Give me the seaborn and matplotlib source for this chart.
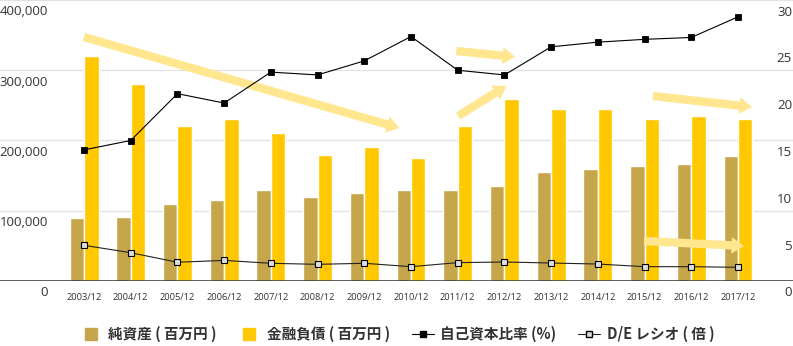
import numpy as np
import pandas as pd
import matplotlib
matplotlib.use("Agg")
import matplotlib.pyplot as plt
import matplotlib.transforms as mtransforms
from matplotlib.lines import Line2D
import seaborn as sns

# ---------------- data ----------------
periods = ["2003/12", "2004/12", "2005/12", "2006/12", "2007/12", "2008/12", "2009/12",
           "2010/12", "2011/12", "2012/12", "2013/12", "2014/12", "2015/12", "2016/12", "2017/12"]
net_assets = [89700, 91100, 109600, 115300, 130000, 120000, 124800,
              130000, 130000, 135200, 154700, 159400, 164100, 166500, 178400]
fin_debt = [320300, 280000, 220200, 230600, 210200, 179800, 190300,
            174600, 220200, 259500, 244800, 244800, 230100, 234900, 231100]
equity_ratio = [14.0, 15.0, 20.0, 19.0, 22.3, 22.0, 23.5,
                26.1, 22.5, 22.0, 25.0, 25.5, 25.8, 26.0, 28.2]
de_ratio = [3.81, 3.02, 2.0, 2.2, 1.89, 1.78, 1.89,
            1.53, 1.96, 2.03, 1.92, 1.81, 1.53, 1.53, 1.46]

series_names = ["純資産 ( 百万円 )", "金融負債 ( 百万円 )", "自己資本比率 (%)", "D/E レシオ ( 倍 )"]
left_ticks = [0, 100000, 200000, 300000, 400000]
left_tick_labels = ["0", "100,000", "200,000", "300,000", "400,000"]
right_ticks = [0, 5, 10, 15, 20, 25, 30]
right_tick_labels = ["0", "5", "10", "15", "20", "25", "30"]

# trend arrows (tail -> head) in (category index, left-axis value)
arrow_tails = [(0.0, 347300), (7.97, 327400), (8.01, 234900), (12.18, 263300), (11.99, 56900)]
arrow_heads = [(6.75, 217800), (9.23, 318900), (9.04, 277600), (14.30, 247700), (14.13, 49800)]

# ---------------- style ----------------
TAN = "#C6A64A"
YELLOW = "#FFC800"
ARROW = "#FFE68F"
TXT = "#333333"

sns.set_theme(style="white")
plt.rcParams["font.family"] = ["Noto Sans CJK JP", "DejaVu Sans"]

W, H, DPI = 793, 346, 100
fig = plt.figure(figsize=(W / DPI, H / DPI), dpi=DPI)
ax = fig.add_axes([0, 65 / H, 1, 281 / H])

df = pd.DataFrame({
    "period": periods * 2,
    "value": net_assets + fin_debt,
    "series": [series_names[0]] * len(periods) + [series_names[1]] * len(periods),
})
sns.barplot(data=df, x="period", y="value", hue="series", order=periods,
            hue_order=series_names[:2], palette=[TAN, YELLOW], saturation=1,
            width=0.62, ax=ax, legend=False, zorder=2)

# gridlines and baseline
for t in left_ticks[1:]:
    ax.axhline(t, color="#E2E2E2", lw=0.9, zorder=0)
ax.axhline(0, color="#333333", lw=1.1, zorder=3)

# arrows
for (tx, ty), (hx, hy) in zip(arrow_tails, arrow_heads):
    ax.annotate("", xy=(hx, hy), xytext=(tx, ty),
                arrowprops=dict(arrowstyle="simple,head_width=1.2,head_length=0.9,tail_width=0.6",
                                color=ARROW, mutation_scale=10, shrinkA=0, shrinkB=0, lw=0),
                zorder=4)

ax.set_ylim(0, 400000)
xl = (-84 / 46.7, 14 + (793 - 738) / 46.7)
ax.set_xlim(*xl)
for s in ax.spines.values():
    s.set_visible(False)
ax.set_ylabel("")
ax.set_xlabel("")
ax.set_yticks([])
ax.set_xticks(range(len(periods)))
ax.set_xticklabels(periods, fontsize=6.7, color=TXT, family=["Open Sans", "DejaVu Sans"])
ax.tick_params(axis="x", length=0, pad=9)

off = mtransforms.ScaledTranslation(0, -12 / DPI, fig.dpi_scale_trans)
for t, lab in zip(left_ticks, left_tick_labels):
    ax.text(48 / W, t, lab, transform=ax.get_yaxis_transform() + off,
            ha="right", va="center", fontsize=9.5, color=TXT, family=["Open Sans", "DejaVu Sans"])

# right axis lines
ax2 = ax.twinx()
sns.pointplot(x=periods, y=equity_ratio, order=periods, ax=ax2, color="black",
              markers="s", linestyles="-", errorbar=None, linewidth=0.8,
              markersize=5, markeredgewidth=0.6, zorder=5)
sns.pointplot(x=periods, y=de_ratio, order=periods, ax=ax2, color="#222222",
              markers="s", linestyles="-", errorbar=None, linewidth=0.8,
              markersize=5, markeredgewidth=0.8, markerfacecolor="#DDDDDD",
              markeredgecolor="black", zorder=5)
ax2.set_ylim(0, 30)
ax2.set_xlim(*xl)
ax2.set_yticks([])
ax2.set_ylabel("")
for s in ax2.spines.values():
    s.set_visible(False)
ax2.grid(False)
for t, lab in zip(right_ticks, right_tick_labels):
    ax2.text(792 / W, t, lab, transform=ax2.get_yaxis_transform() + off,
             ha="right", va="center", fontsize=9.5, color=TXT, family=["Open Sans", "DejaVu Sans"])

# legend
handles = [
    Line2D([], [], marker="s", linestyle="none", markersize=9, color=TAN),
    Line2D([], [], marker="s", linestyle="none", markersize=9, color=YELLOW),
    Line2D([], [], marker="s", linestyle="-", markersize=5, color="black", lw=0.8),
    Line2D([], [], marker="s", linestyle="-", markersize=5, color="#222222", lw=0.8,
           markerfacecolor="#DDDDDD", markeredgecolor="black"),
]
fig.legend(handles, series_names, loc="center", bbox_to_anchor=(397 / W, 12 / H),
           ncol=4, frameon=False, handlelength=1.5, handletextpad=0.45, columnspacing=1.5,
           prop=dict(family=["Noto Sans CJK JP", "DejaVu Sans"], weight="bold", size=10.5))
for txt in fig.legends[0].get_texts():
    txt.set_color(TXT)

fig.savefig("out.png", dpi=DPI)
